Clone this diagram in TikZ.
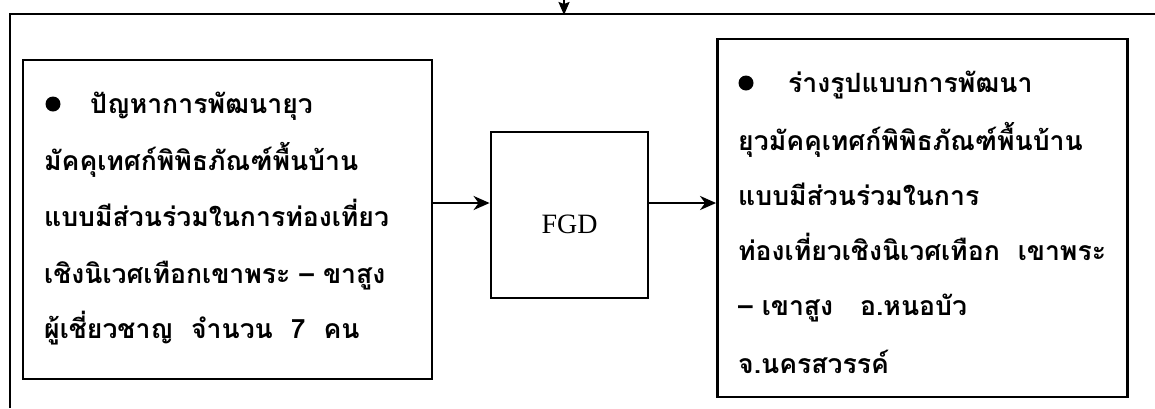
\documentclass[tikz,border=0pt]{standalone}
\usepackage{fontspec}
\newfontfamily\thaifont[Script=Thai]{Loma}
\setmainfont{Liberation Serif}
\usetikzlibrary{arrows.meta}
\begin{document}
\begin{tikzpicture}[x=1pt,y=-1pt,
  boxst/.style={draw,line width=2.8pt,inner sep=0pt},
  thline/.style={anchor=base west,inner sep=0pt,font=\thaifont\bfseries\fontsize{26.6}{32}\selectfont},
  arr/.style={line width=2.6pt,-{Stealth[length=16pt,width=14pt,inset=5pt]}}]
\useasboundingbox (0,0) rectangle (1155,408);
% outer frame
\coordinate (ftl) at (10,14);
\coordinate (ftr) at (1155,14);
\coordinate (fbl) at (10,408);
\coordinate (top) at (564,0);
\coordinate (topin) at (564,15);
\draw[line width=2.4pt] (fbl) -- (ftl) -- (ftr);
\draw[line width=2pt,-{Stealth[length=13pt,width=11pt,inset=2pt]}] (top) -- (topin);
% boxes
\node[boxst,minimum width=409pt,minimum height=319pt] (lbox) at (227.5,219.5) {};
\node[boxst,minimum width=157pt,minimum height=166pt] (fgd) at (569.5,215) {};
\node[inner sep=0pt,font=\fontsize{28}{30}\selectfont] (fgdt) at (569.5,224) {FGD};
\node[boxst,minimum width=410pt,minimum height=358pt] (rbox) at (922.5,218) {};
% arrows
\coordinate (ay) at (0,203);
\draw[arr] (lbox.east |- ay) -- (fgd.west |- ay);
\draw[arr] (fgd.east |- ay) -- (rbox.west |- ay);
% left text
\fill (53,104) circle (7.5pt);
\node[thline] (l1) at (90,113) {ปัญหาการพัฒนายุว};
\node[thline] (l2) at (44,170) {มัคคุเทศก์พิพิธภัณฑ์พื้นบ้าน};
\node[thline] (l3) at (44,226) {แบบมีส่วนร่วมในการท่องเที่ยว};
\node[thline] (l4) at (44,283) {เชิงนิเวศเทือกเขาพระ – ขาสูง};
\node[thline] (l5) at (44,338) {ผู้เชี่ยวชาญ\ \ จำนวน\ \ 7\ \ คน};
% right text
\fill (746,83) circle (7.5pt);
\node[thline] (r1) at (788,92) {ร่างรูปแบบการพัฒนา};
\node[thline] (r2) at (738,150) {ยุวมัคคุเทศก์พิพิธภัณฑ์พื้นบ้าน};
\node[thline] (r3) at (738,205) {แบบมีส่วนร่วมในการ};
\node[thline] (r4) at (738,260) {ท่องเที่ยวเชิงนิเวศเทือก\ \ เขาพระ};
\node[thline] (r5) at (738,315) {– เขาสูง\ \ \ อ.หนอบัว};
\node[thline] (r6) at (738,373) {จ.นครสวรรค์};
\end{tikzpicture}
\end{document}
